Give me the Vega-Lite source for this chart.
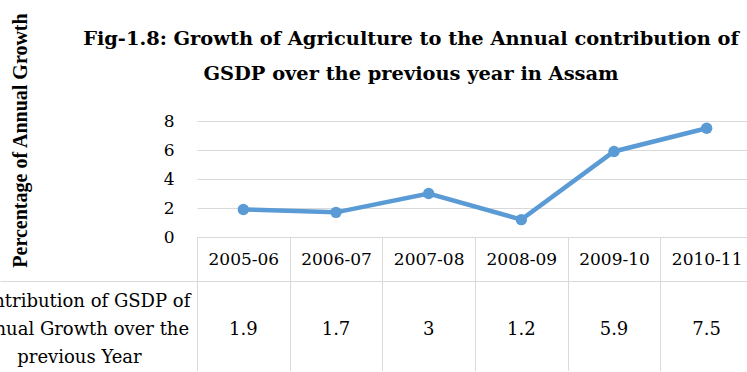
{
  "$schema": "https://vega.github.io/schema/vega-lite/v6.json",
  "padding": {"left": -32, "top": 12, "right": -7, "bottom": -2},
  "background": "white",
  "config": {"view": {"stroke": null}, "font": "DejaVu Serif"},
  "title": {
    "text": ["Fig-1.8: Growth of Agriculture to the Annual contribution of", "GSDP over the previous year in Assam"],
    "font": "DejaVu Serif", "fontSize": 19.4, "fontWeight": "bold", "color": "black",
    "lineHeight": 35, "anchor": "middle", "frame": "group", "offset": -72, "dx": -64
  },
  "data": {
    "values": [
      {"year": "2005-06", "growth": 1.9, "row": "Contribution of GSDP of\nAnnual Growth over the\nprevious Year"},
      {"year": "2006-07", "growth": 1.7, "row": "Contribution of GSDP of\nAnnual Growth over the\nprevious Year"},
      {"year": "2007-08", "growth": 3, "row": "Contribution of GSDP of\nAnnual Growth over the\nprevious Year"},
      {"year": "2008-09", "growth": 1.2, "row": "Contribution of GSDP of\nAnnual Growth over the\nprevious Year"},
      {"year": "2009-10", "growth": 5.9, "row": "Contribution of GSDP of\nAnnual Growth over the\nprevious Year"},
      {"year": "2010-11", "growth": 7.5, "row": "Contribution of GSDP of\nAnnual Growth over the\nprevious Year"}
    ]
  },
  "bounds": "flush",
  "spacing": 44,
  "vconcat": [
    {
      "width": 556,
      "height": 116,
      "mark": {"type": "line", "color": "#5B9BD5", "strokeWidth": 4.5,
               "point": {"filled": true, "size": 130, "color": "#5B9BD5"}},
      "encoding": {
        "x": {
          "field": "year", "type": "ordinal",
          "scale": {"type": "band", "paddingInner": 0, "paddingOuter": 0},
          "axis": {
            "title": null, "labelAngle": 0, "labelFontSize": 17, "labelColor": "black",
            "labelFont": "DejaVu Serif", "labelBaseline": "middle", "labelPadding": -22,
            "tickBand": "extent", "tickSize": 44, "tickColor": "#d9d9d9",
            "domainColor": "#d9d9d9", "grid": false
          }
        },
        "y": {
          "field": "growth", "type": "quantitative",
          "scale": {"domain": [0, 8], "nice": false},
          "axis": {
            "values": [0, 2, 4, 6, 8],
            "title": "Percentage of Annual Growth",
            "titleFont": "Liberation Serif", "titleFontSize": 20, "titleFontWeight": "bold",
            "titleColor": "black", "titleX": -171, "titleY": 19, "titleAngle": 270,
            "titleBaseline": "alphabetic", "titleAlign": "center",
            "domain": false, "ticks": false, "labelPadding": 23,
            "labelFontSize": 17, "labelColor": "black", "labelFont": "DejaVu Serif",
            "grid": true, "gridColor": "#d9d9d9"
          }
        }
      }
    },
    {
      "width": 556,
      "height": 91,
      "mark": {"type": "text", "fontSize": 18, "color": "black", "font": "DejaVu Serif", "dy": 3},
      "encoding": {
        "x": {
          "field": "year", "type": "ordinal",
          "scale": {"type": "band", "paddingInner": 0, "paddingOuter": 0},
          "axis": {
            "orient": "top", "title": null, "labels": false, "ticks": false,
            "domain": false, "grid": true, "tickBand": "extent", "gridColor": "#d9d9d9"
          }
        },
        "y": {
          "field": "row", "type": "nominal",
          "scale": {"type": "band", "paddingInner": 0, "paddingOuter": 0},
          "axis": {
            "title": null, "domain": false, "ticks": true, "tickSize": 197,
            "tickColor": "#d9d9d9", "tickBand": "extent", "grid": true, "gridColor": "#d9d9d9",
            "labelExpr": "split(datum.label, '\\n')", "labelAlign": "center",
            "labelBaseline": "middle", "labelPadding": -79, "labelOffset": -25,
            "labelFontSize": 18, "labelLineHeight": 28, "labelColor": "black",
            "labelFont": "DejaVu Serif", "labelLimit": 400
          }
        },
        "text": {"field": "growth", "type": "quantitative"}
      }
    }
  ]
}
